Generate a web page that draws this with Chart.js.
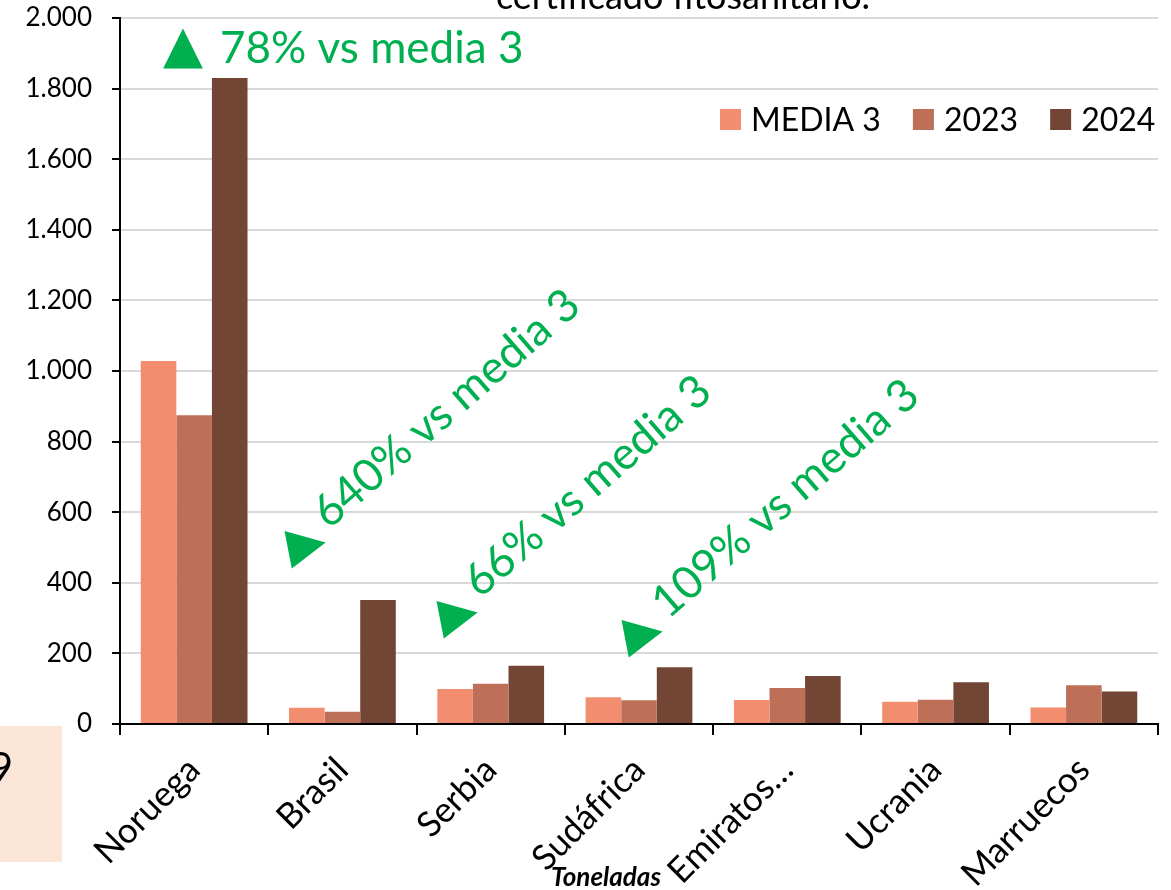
<!DOCTYPE html>
<html>
<head>
<meta charset="utf-8">
<script src="https://cdn.jsdelivr.net/npm/chart.js@4.4.1/dist/chart.umd.min.js"></script>
<style>
  html, body { margin: 0; padding: 0; background: #fff; }
  #wrap { position: relative; width: 1171px; height: 890px; }
</style>
</head>
<body>
<div id="wrap"><canvas id="chart" width="1171" height="890"></canvas></div>
<script>
// values (toneladas)
const categories = ['Noruega', 'Brasil', 'Serbia', 'Sudáfrica', 'Emiratos…', 'Ucrania', 'Marruecos'];
const media3 = [1028, 46, 99, 76, 68, 63, 47];
const y2023 = [875, 35, 114, 67, 102, 69, 110];
const y2024 = [1830, 351, 165, 161, 136, 118, 92];
const yTickValues = [0, 200, 400, 600, 800, 1000, 1200, 1400, 1600, 1800, 2000];

const seriesLabels = ['MEDIA 3', '2023', '2024'];
const seriesColors = ['#F28E6F', '#BE6F58', '#734535'];

const GREEN = '#00B050';
const FONT = 'Lato, "Open Sans", sans-serif';

function fmt(v) {
    return String(v).replace(/\B(?=(\d{3})+(?!\d))/g, '.');
}

// the loose texts around the chart: legend, green notes, cut title, footer
const extras = {
    id: 'extras',
    afterDraw(chart) {
        const ctx = chart.ctx;
        ctx.save();

        // cut-off title at the very top
        ctx.fillStyle = '#000';
        ctx.font = '36px ' + FONT;
        ctx.textAlign = 'center';
        ctx.textBaseline = 'alphabetic';
        ctx.fillText('certificado fitosanitario.', 683, 9);

        // legend
        ctx.font = '32px ' + FONT;
        ctx.textAlign = 'left';
        ctx.textBaseline = 'middle';
        let x = 720;
        chart.data.datasets.forEach(ds => {
            ctx.fillStyle = ds.backgroundColor;
            ctx.fillRect(x, 109, 21, 21);
            ctx.fillStyle = '#000';
            ctx.fillText(ds.label, x + 31, 121);
            x += 31 + ctx.measureText(ds.label).width + 32;
        });

        // green notes
        ctx.fillStyle = GREEN;
        ctx.textBaseline = 'alphabetic';
        ctx.font = '52px "DejaVu Sans"';
        ctx.fillText('▲', 163, 62);
        ctx.font = 'normal 44px ' + FONT;
        ctx.fillText('78% vs media 3', 220, 63);

        const notes = [
            { text: '640% vs media 3', x: 329, y: 530, tx: 307, ty: 546 },
            { text: '66% vs media 3', x: 480, y: 599, tx: 459, ty: 616 },
            { text: '109% vs media 3', x: 668, y: 620, tx: 644, ty: 635 }
        ];
        notes.forEach(n => {
            ctx.save();
            ctx.translate(n.x, n.y);
            ctx.rotate(-41 * Math.PI / 180);
            ctx.font = 'normal 45px ' + FONT;
            ctx.textAlign = 'left';
            ctx.fillText(n.text, 0, 0);
            ctx.restore();

            ctx.save();
            ctx.translate(n.tx, n.ty);
            ctx.rotate(-11 * Math.PI / 180);
            ctx.font = '50px "DejaVu Sans"';
            ctx.textAlign = 'center';
            ctx.textBaseline = 'middle';
            ctx.fillText('▶', 0, 0);
            ctx.restore();
        });

        // peach box bottom-left with a clipped number
        ctx.fillStyle = '#FBE5D6';
        ctx.fillRect(0, 726, 62, 136);
        ctx.fillStyle = '#000';
        ctx.font = '42px ' + FONT;
        ctx.textAlign = 'right';
        ctx.fillText('9', 13, 783);

        // unit label
        ctx.font = 'italic bold 26px ' + FONT;
        ctx.textAlign = 'center';
        ctx.fillText('Toneladas', 606, 886);

        ctx.restore();
    }
};

new Chart(document.getElementById('chart'), {
    type: 'bar',
    data: {
        labels: categories,
        datasets: [
            { label: seriesLabels[0], data: media3, backgroundColor: seriesColors[0] },
            { label: seriesLabels[1], data: y2023, backgroundColor: seriesColors[1] },
            { label: seriesLabels[2], data: y2024, backgroundColor: seriesColors[2] }
        ]
    },
    options: {
        responsive: false,
        animation: false,
        layout: { padding: { top: 18, right: 13, left: 0, bottom: 0 } },
        datasets: {
            bar: { barPercentage: 1, categoryPercentage: 0.72 }
        },
        plugins: {
            legend: { display: false },
            tooltip: { enabled: false }
        },
        scales: {
            x: {
                grid: {
                    drawOnChartArea: false,
                    color: '#000',
                    lineWidth: 2,
                    tickLength: 11
                },
                border: { color: '#000', width: 2 },
                ticks: {
                    color: '#000',
                    font: { family: FONT, size: 35 },
                    maxRotation: 45,
                    minRotation: 45,
                    padding: 14,
                    autoSkip: false
                },
                afterFit(scale) { scale.height = 166; }
            },
            y: {
                min: 0,
                max: 2000,
                afterBuildTicks(scale) {
                    scale.ticks = yTickValues.map(v => ({ value: v }));
                },
                grid: {
                    color: '#D9D9D9',
                    lineWidth: 2,
                    tickColor: '#000',
                    tickWidth: 2,
                    tickLength: 8
                },
                border: { color: '#000', width: 2 },
                ticks: {
                    color: '#000',
                    font: { family: FONT, size: 26 },
                    padding: 20,
                    callback: v => fmt(v)
                },
                afterFit(scale) {
                    scale.width = 120;
                    scale.paddingTop = 0;
                    scale.paddingBottom = 0;
                }
            }
        }
    },
    plugins: [extras]
});
</script>
</body>
</html>
